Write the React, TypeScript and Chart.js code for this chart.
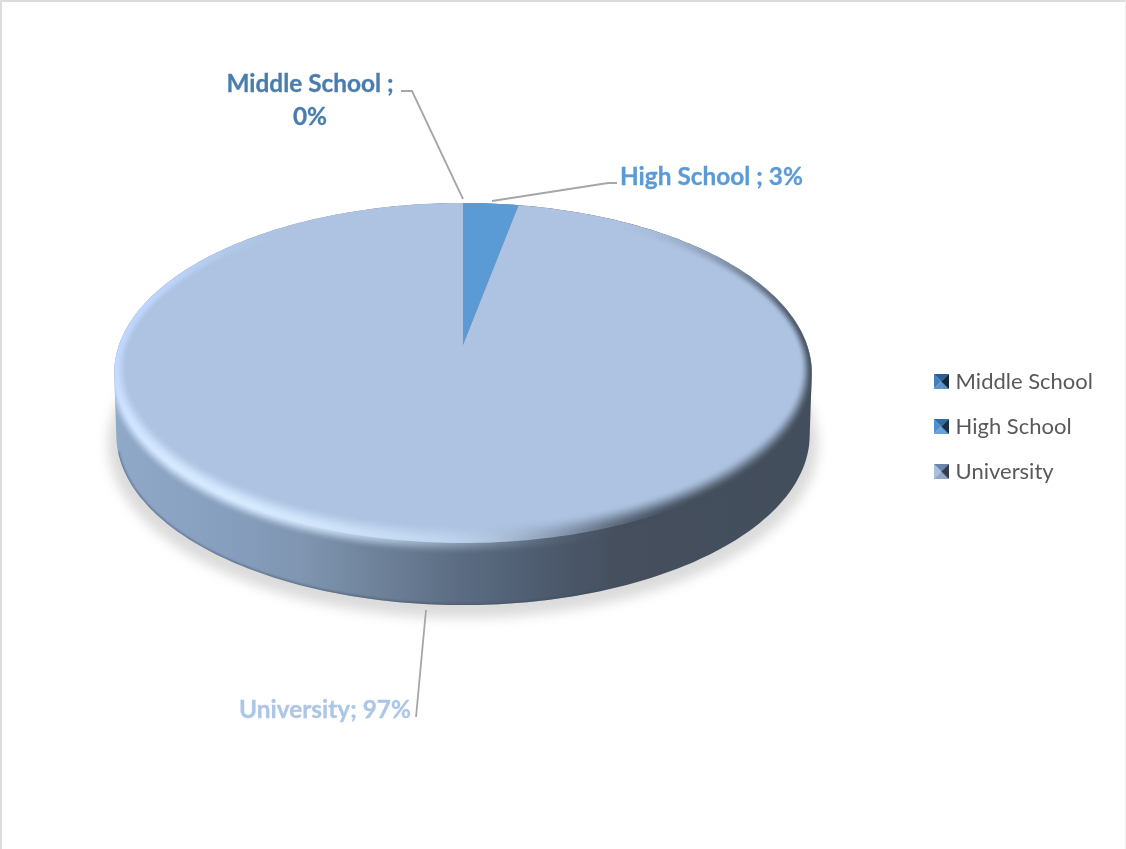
import React, { useEffect, useRef } from "react";
import { Chart, ArcElement, registerables } from "chart.js";

Chart.register(...registerables);

const categories = ["Middle School", "High School", "University"];
const shareValues = [0, 3, 97];
const labelSeparators = [" ;", " ;", ";"];
const sliceColors = ["#4a7eb5", "#5b9bd5", "#adc3e1"];
const labelColors = ["#4a7dae", "#5b9bd5", "#adc6e6"];
const legendTints = [
  ["#2a5f96", "#3f7fbf", "#5e93c8", "#12263c"],
  ["#2f6ba6", "#4c90d0", "#6aa2d8", "#17304a"],
  ["#6c86ab", "#a8c0e0", "#8fa8c8", "#333e50"],
];

// Perspective of the disc: the pie centre lands behind the ellipse centre.
const CX = 463;
const RX = 344;
const PA = 108.6;
const PB = 345;
const PC = -0.1647;
const WALL = 62;

const project = (u: number, v: number) => {
  const w = 1 + PC * v;
  return { x: CX + (RX * u) / w, y: (PA * v + PB) / w };
};

// Slices are traced through the projection instead of as circular arcs.
(ArcElement.prototype as any).draw = function (ctx: CanvasRenderingContext2D) {
  const { startAngle, endAngle } = this.getProps(["startAngle", "endAngle"]);
  if (endAngle - startAngle <= 0) return;
  const steps = Math.max(2, Math.ceil((endAngle - startAngle) * 60));
  ctx.save();
  ctx.fillStyle = this.options.backgroundColor;
  ctx.beginPath();
  const apex = project(0, 0);
  ctx.moveTo(apex.x, apex.y);
  for (let i = 0; i <= steps; i++) {
    const a = startAngle + ((endAngle - startAngle) * i) / steps;
    const p = project(Math.cos(a), Math.sin(a));
    ctx.lineTo(p.x, p.y);
  }
  ctx.closePath();
  ctx.fill();
  ctx.restore();
};

const smooth = (e0: number, e1: number, x: number) => {
  const t = Math.min(1, Math.max(0, (x - e0) / (e1 - e0)));
  return t * t * (3 - 2 * t);
};

const basePoint = (a: number) => {
  const p = project(Math.cos(a), Math.sin(a));
  return { x: CX + (p.x - CX) * 0.994, y: p.y + WALL };
};

// Outline of the whole solid: foot of the wall, then the far side of the rim.
const traceHull = (ctx: CanvasRenderingContext2D) => {
  ctx.beginPath();
  for (let d = 10; d <= 170; d++) {
    const p = basePoint((d * Math.PI) / 180);
    ctx.lineTo(p.x, p.y);
  }
  for (let d = 170; d <= 370; d++) {
    const a = (d * Math.PI) / 180;
    const p = project(Math.cos(a), Math.sin(a));
    ctx.lineTo(p.x, p.y);
  }
  ctx.closePath();
};

// Rounded edge of the top face, shaded per pixel in disc coordinates:
// a dark falloff on the right, with a highlight composited over it on the left.
const bevelLayer = () => {
  const off = document.createElement("canvas");
  off.width = 1126;
  off.height = 849;
  const o = off.getContext("2d") as CanvasRenderingContext2D;
  const img = o.createImageData(1126, 849);
  for (let y = 190; y < 590; y++) {
    for (let x = 100; x < 830; x++) {
      const v = (y - PB) / (PA - PC * y);
      const u = ((x - CX) * (1 + PC * v)) / RX;
      const rho = Math.hypot(u, v);
      if (rho < 0.8 || rho > 1.2) continue;
      const th = ((Math.atan2(u, -v) * 180) / Math.PI + 360) % 360;
      const band = Math.hypot((u / rho) * 0.031, (v / rho) * 0.085);
      const t = (1 - rho) / band;
      const light = smooth(155, 215, th) * (1 - smooth(285, 325, th));
      const dark = smooth(30, 88, th) * (1 - smooth(145, 185, th));

      const strong = 1 - smooth(225, 280, th);
      const lightProfile = t < 0.12 ? smooth(-0.55, 0.12, t) : 1 - smooth(0.12, 1, t);
      const darkProfile = t < 0 ? smooth(-0.2, 0, t) : 1 - smooth(0, 1, t);
      const a2 = lightProfile * light;
      const a1 = darkProfile * dark;
      const al = 1 - (1 - a1) * (1 - a2);
      if (al <= 0) continue;

      const mix = (c1: number, c2: number) => (c1 * a1 * (1 - a2) + c2 * a2) / al;
      const i = (y * 1126 + x) * 4;
      img.data[i] = mix(68, 190 + 24 * strong);
      img.data[i + 1] = mix(78, 215 + 18 * strong);
      img.data[i + 2] = mix(92, 255);
      img.data[i + 3] = Math.round(al * 255);
    }
  }
  o.putImageData(img, 0, 0);
  return off;
};

const wallPlugin = {
  id: "wall",
  beforeDatasetsDraw(chart: Chart) {
    const ctx = chart.ctx;
    ctx.save();
    ctx.fillStyle = "#dcdcdc";
    ctx.fillRect(0, 0, 1126, 2);
    ctx.fillRect(0, 0, 2, 849);
    ctx.fillStyle = "#ececec";
    ctx.fillRect(1125, 0, 1, 849);

    // soft ground shadow
    ctx.filter = "blur(6px)";
    ctx.fillStyle = "rgba(0,0,0,0.14)";
    ctx.beginPath();
    ctx.ellipse(CX, 444, 355, 174, 0, 0, Math.PI * 2);
    ctx.fill();
    ctx.filter = "none";

    const g = ctx.createLinearGradient(113, 0, 811, 0);
    const stops: [number, string][] = [
      [0, "#90a9c9"],
      [0.16, "#879fbe"],
      [0.27, "#7f95b1"],
      [0.38, "#6e8299"],
      [0.5, "#5b6c82"],
      [0.62, "#4d5b6e"],
      [0.72, "#454f5e"],
      [1, "#434e5c"],
    ];
    stops.forEach(([o, c]) => g.addColorStop(o, c));
    ctx.fillStyle = g;
    traceHull(ctx);
    ctx.fill();

    // dark lip along the foot of the wall
    ctx.save();
    traceHull(ctx);
    ctx.clip();
    ctx.filter = "blur(1.2px)";
    ctx.strokeStyle = "rgba(60,72,92,0.55)";
    ctx.lineWidth = 2.5;
    ctx.beginPath();
    for (let d = 70; d <= 165; d++) {
      const p = basePoint((d * Math.PI) / 180);
      ctx.lineTo(p.x, p.y);
    }
    ctx.stroke();
    ctx.restore();
    ctx.restore();
  },
  afterDatasetsDraw(chart: Chart) {
    const ctx = chart.ctx;
    ctx.save();
    traceHull(ctx);
    ctx.clip();
    ctx.filter = "blur(0.8px)";
    ctx.drawImage(bevelLayer(), 0, 0);
    ctx.restore();
  },
};

const labelPlugin = {
  id: "leaderLabels",
  afterDraw(chart: Chart) {
    const ctx = chart.ctx;
    const leaders = [
      [[463, 199], [412, 91], [401, 91]],
      [[492, 201], [608, 183], [617, 183]],
      [[426, 610], [416, 717]],
    ];
    ctx.save();
    ctx.strokeStyle = "#a6a6a6";
    ctx.lineWidth = 1.8;
    leaders.forEach((pts) => {
      ctx.beginPath();
      pts.forEach(([x, y], i) => (i ? ctx.lineTo(x, y) : ctx.moveTo(x, y)));
      ctx.stroke();
    });
    ctx.font = "bold 24.4px Lato";
    ctx.textBaseline = "middle";
    ctx.lineWidth = 0.3;
    const put = (s: string, x: number, y: number, color: string, align: CanvasTextAlign) => {
      ctx.textAlign = align;
      ctx.fillStyle = color;
      ctx.strokeStyle = color;
      ctx.fillText(s, x, y);
      ctx.strokeText(s, x, y);
    };
    const pct = (i: number) => `${shareValues[i]}%`;
    const head = (i: number) => `${categories[i]}${labelSeparators[i]}`;
    put(head(0), 310, 84, labelColors[0], "center");
    put(pct(0), 310, 117, labelColors[0], "center");
    put(`${head(1)} ${pct(1)}`, 620, 177, labelColors[1], "left");
    put(`${head(2)} ${pct(2)}`, 411, 710, labelColors[2], "right");
    ctx.restore();
  },
};

const bevelSwatch = (tints: string[]) => {
  const c = document.createElement("canvas");
  c.width = 15;
  c.height = 15;
  const x = c.getContext("2d") as CanvasRenderingContext2D;
  const tri = (pts: number[][], fill: string) => {
    x.fillStyle = fill;
    x.beginPath();
    pts.forEach(([a, b], i) => (i ? x.lineTo(a, b) : x.moveTo(a, b)));
    x.closePath();
    x.fill();
  };
  tri([[0, 0], [15, 0], [7.5, 7.5]], tints[0]);
  tri([[0, 0], [0, 15], [7.5, 7.5]], tints[1]);
  tri([[0, 15], [15, 15], [7.5, 7.5]], tints[2]);
  tri([[15, 0], [15, 15], [7.5, 7.5]], tints[3]);
  return c;
};

export default function App() {
  const ref = useRef<HTMLCanvasElement>(null);
  useEffect(() => {
    if (!ref.current) return;
    const chart = new Chart(ref.current, {
      type: "pie",
      data: {
        labels: categories,
        datasets: [
          {
            data: shareValues,
            backgroundColor: sliceColors,
            borderWidth: 0,
          },
        ],
      },
      options: {
        responsive: false,
        animation: false,
        layout: { padding: { right: 23, top: 4, bottom: 0 } },
        plugins: {
          tooltip: { enabled: false },
          legend: {
            position: "right",
            align: "center",
            labels: {
              usePointStyle: true,
              pointStyleWidth: 7,
              boxHeight: 15,
              padding: 23,
              color: "#595959",
              font: { family: "Lato", size: 22 },
              generateLabels: () =>
                categories.map((c, i) => ({
                  text: c,
                  pointStyle: bevelSwatch(legendTints[i]),
                  fillStyle: sliceColors[i],
                  strokeStyle: "transparent",
                  lineWidth: 0,
                  fontColor: "#595959",
                  index: i,
                })),
            },
          },
        },
      },
      plugins: [wallPlugin, labelPlugin],
    });
    return () => chart.destroy();
  }, []);
  return (
    <div style={{ position: "fixed", left: 0, top: 0, width: 1126, height: 849, background: "#fff" }}>
      <canvas ref={ref} width={1126} height={849} style={{ display: "block" }} />
    </div>
  );
}
